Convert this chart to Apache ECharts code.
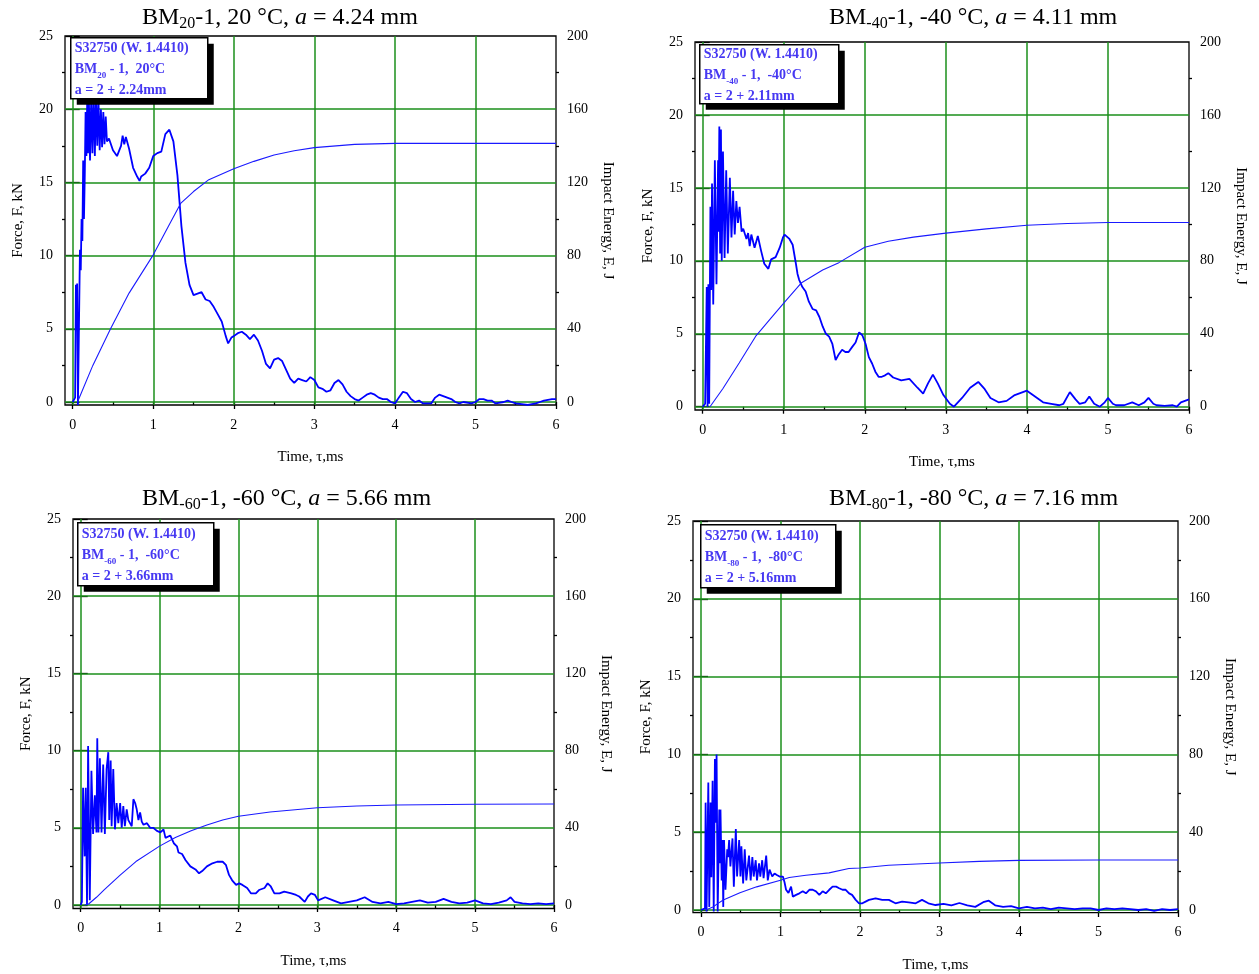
<!DOCTYPE html>
<html><head><meta charset="utf-8">
<script src="https://cdn.jsdelivr.net/npm/echarts@6/dist/echarts.min.js"></script>
<style>html,body{margin:0;padding:0;background:#fff}#c{width:1259px;height:974px}</style>
</head><body><div id="c"></div>
<script>
// ---------- tick labels / grid values ----------
const xTicks = [0, 1, 2, 3, 4, 5, 6];
const xMinorTicks = [0.5, 1.5, 2.5, 3.5, 4.5, 5.5];
const forceTicks = [0, 5, 10, 15, 20, 25];
const forceMinorTicks = [2.5, 7.5, 12.5, 17.5, 22.5];
const energyTicks = [0, 40, 80, 120, 160, 200];
const energyMinorTicks = [20, 60, 100, 140, 180];
const xGridLines = [0, 1, 2, 3, 4, 5];
const forceGridLines = [0, 5, 10, 15, 20];

// ---------- panel texts ----------
const panelSub = ['20', '-40', '-60', '-80'];
const panelTemp = ['20 °C', '-40 °C', '-60 °C', '-80 °C'];
const panelA = ['4.24', '4.11', '5.66', '7.16'];
const boxLine1 = 'S32750 (W. 1.4410)';
const boxTemp = ['1,  20°C', '1,  -40°C', '1,  -60°C', '1,  -80°C'];
const boxCrack = ['a = 2 + 2.24mm', 'a = 2 + 2.11mm', 'a = 2 + 3.66mm', 'a = 2 + 5.16mm'];

// ---------- data: [time ms, force kN] / [time ms, energy J] ----------
const bm20Force = [[0,0],[0.02,0],[0.03,0.3],[0.04,8],[0.045,6],[0.055,8.1],[0.065,-0.2],[0.08,-0.2],[0.09,10.4],[0.1,9],[0.11,12.5],[0.12,11],[0.13,16.5],[0.14,12.5],[0.15,15.5],[0.16,19.8],[0.17,16.8],[0.18,20.6],[0.19,17],[0.2,21],[0.215,16.5],[0.23,20.8],[0.245,17],[0.26,21],[0.275,16.8],[0.29,21],[0.305,17.5],[0.32,20.6],[0.335,17.2],[0.35,20],[0.365,17.4],[0.38,19.8],[0.395,17.6],[0.41,19.5],[0.425,17.8],[0.45,18],[0.5,17.2],[0.55,16.8],[0.6,17.5],[0.62,18.2],[0.64,17.6],[0.66,18.1],[0.7,17.3],[0.75,16],[0.8,15.4],[0.83,15.1],[0.85,15.4],[0.9,15.6],[0.95,16],[1.0,16.8],[1.05,17],[1.1,17.1],[1.15,18.3],[1.2,18.6],[1.25,17.8],[1.3,15.5],[1.35,12],[1.4,9.5],[1.45,8],[1.5,7.3],[1.55,7.4],[1.6,7.5],[1.65,7.0],[1.7,6.9],[1.75,6.5],[1.8,6.0],[1.85,5.5],[1.9,4.5],[1.93,4.0],[1.97,4.4],[2.0,4.5],[2.05,4.7],[2.1,4.8],[2.15,4.6],[2.2,4.3],[2.25,4.6],[2.3,4.2],[2.35,3.5],[2.4,2.6],[2.45,2.3],[2.5,2.9],[2.55,3.0],[2.6,2.8],[2.65,2.2],[2.7,1.6],[2.75,1.3],[2.8,1.6],[2.85,1.5],[2.9,1.4],[2.95,1.7],[3.0,1.5],[3.05,1.0],[3.1,0.9],[3.15,0.7],[3.2,0.8],[3.25,1.3],[3.3,1.5],[3.35,1.2],[3.4,0.7],[3.45,0.4],[3.5,0.2],[3.55,0.1],[3.6,0.3],[3.65,0.5],[3.7,0.6],[3.75,0.5],[3.8,0.3],[3.85,0.2],[3.9,0.2],[3.95,0],[4.0,-0.1],[4.05,0.3],[4.1,0.7],[4.15,0.6],[4.2,0.2],[4.25,0],[4.3,0.1],[4.35,-0.1],[4.45,-0.1],[4.5,0.3],[4.55,0.5],[4.6,0.4],[4.65,0.3],[4.7,0.2],[4.75,0],[4.8,-0.1],[4.85,0],[4.95,-0.1],[5.0,0],[5.05,0.2],[5.1,0.2],[5.15,0.1],[5.2,0.1],[5.25,-0.1],[5.35,0],[5.4,0.1],[5.45,0],[5.5,-0.1],[5.65,-0.2],[5.75,-0.1],[5.8,0],[5.85,0.1],[5.95,0.2],[6.0,0.2]];
const bm20Energy = [[0.06,0],[0.25,20],[0.47,40],[0.7,59.5],[1.0,80.4],[1.2,97],[1.34,108.5],[1.5,115],[1.69,121.5],[2.0,127.5],[2.25,131.5],[2.5,135],[2.75,137.3],[3.0,139],[3.5,140.8],[4.0,141.3],[6.0,141.3]];

const bm40Force = [[0,0],[0.03,0.2],[0.045,0.1],[0.05,8.2],[0.06,0],[0.07,8.4],[0.08,0.2],[0.095,13.7],[0.105,8],[0.115,15.3],[0.13,7],[0.15,16.9],[0.17,8.4],[0.19,16.9],[0.195,12],[0.205,19.2],[0.215,10.5],[0.225,19.0],[0.235,10],[0.25,17.5],[0.27,10.2],[0.29,16.2],[0.31,10.5],[0.335,15.7],[0.355,11.6],[0.375,14.8],[0.395,11.8],[0.415,14.1],[0.435,12.6],[0.455,13.7],[0.48,12],[0.5,12.2],[0.54,11.5],[0.56,11.9],[0.58,11.0],[0.6,11.8],[0.64,10.9],[0.68,11.7],[0.72,10.7],[0.76,9.8],[0.81,9.45],[0.845,10.1],[0.9,10.25],[0.95,10.9],[0.99,11.6],[1.01,11.8],[1.07,11.5],[1.11,11.1],[1.15,9.8],[1.17,9.1],[1.19,8.7],[1.23,8.2],[1.27,7.9],[1.31,7.2],[1.355,6.7],[1.4,6.6],[1.44,6.15],[1.48,5.5],[1.52,5.0],[1.56,4.8],[1.6,4.3],[1.64,3.2],[1.68,3.6],[1.72,3.9],[1.76,3.75],[1.8,3.75],[1.845,4.1],[1.886,4.4],[1.93,5.1],[1.97,4.9],[2.01,4.3],[2.05,3.4],[2.09,2.96],[2.13,2.4],[2.17,2.05],[2.21,2.05],[2.25,2.15],[2.29,2.3],[2.35,2.0],[2.45,1.8],[2.55,1.9],[2.65,1.3],[2.72,0.9],[2.78,1.6],[2.84,2.2],[2.9,1.6],[2.97,0.8],[3.05,0.2],[3.1,0.0],[3.2,0.6],[3.3,1.3],[3.4,1.7],[3.48,1.2],[3.55,0.6],[3.65,0.3],[3.75,0.4],[3.85,0.8],[3.95,1.0],[4.0,1.1],[4.1,0.7],[4.2,0.3],[4.3,0.2],[4.4,0.1],[4.45,0.2],[4.53,1.0],[4.6,0.5],[4.65,0.2],[4.72,0.3],[4.77,0.7],[4.83,0.2],[4.9,0.0],[4.96,0.3],[5.0,0.6],[5.06,0.2],[5.1,0.1],[5.2,0.1],[5.3,0.3],[5.38,0.1],[5.45,0.3],[5.5,0.6],[5.56,0.2],[5.6,0.1],[5.7,0.05],[5.8,0.1],[5.85,0.0],[5.9,0.3],[6.0,0.5]];
const bm40Energy = [[0.09,0],[0.25,10],[0.45,24],[0.66,39],[0.85,49],[1.0,56.8],[1.22,68],[1.48,75],[1.68,79],[2.0,87.4],[2.29,90.7],[2.6,93],[3.0,95.2],[3.5,97.5],[4.0,99.5],[4.5,100.5],[5.0,101],[6.0,101]];

const bm60Force = [[0,0],[0.015,0.2],[0.03,7.6],[0.05,3.15],[0.064,7.6],[0.08,0],[0.094,10.3],[0.115,0.3],[0.136,8.7],[0.157,4.6],[0.179,7.1],[0.2,4.7],[0.21,10.8],[0.225,4.7],[0.243,9.5],[0.264,4.7],[0.285,9.1],[0.306,4.6],[0.328,8.8],[0.35,9.9],[0.362,5.5],[0.38,9.35],[0.392,5.1],[0.413,8.8],[0.434,4.9],[0.455,6.6],[0.477,5.3],[0.5,6.6],[0.52,5.0],[0.54,6.4],[0.56,5.1],[0.583,6.2],[0.604,5.5],[0.647,5.1],[0.668,6.85],[0.69,6.6],[0.71,6.2],[0.732,5.5],[0.753,6.0],[0.774,5.4],[0.796,5.2],[0.84,5.3],[0.88,5.0],[0.92,5.0],[0.966,4.8],[1.01,4.7],[1.05,4.9],[1.075,4.35],[1.136,4.5],[1.18,4.0],[1.22,3.8],[1.24,3.4],[1.285,3.3],[1.33,2.9],[1.39,2.5],[1.455,2.3],[1.5,2.05],[1.54,2.2],[1.6,2.5],[1.67,2.7],[1.73,2.8],[1.8,2.8],[1.84,2.6],[1.88,1.95],[1.92,1.6],[1.97,1.3],[2.01,1.4],[2.05,1.3],[2.11,1.1],[2.16,0.75],[2.22,0.75],[2.26,0.97],[2.33,1.1],[2.37,1.4],[2.41,1.2],[2.455,0.75],[2.52,0.75],[2.58,0.87],[2.67,0.75],[2.73,0.65],[2.77,0.55],[2.84,0.2],[2.88,0.55],[2.92,0.75],[2.97,0.65],[3.01,0.3],[3.1,0.5],[3.2,0.3],[3.3,0.1],[3.4,0.2],[3.5,0.3],[3.6,0.5],[3.7,0.2],[3.8,0.1],[3.9,0.2],[4.0,0.05],[4.1,0.1],[4.2,0.2],[4.3,0.3],[4.4,0.15],[4.5,0.2],[4.6,0.4],[4.7,0.2],[4.8,0.1],[4.9,0.15],[5.0,0.3],[5.1,0.1],[5.2,0.05],[5.3,0.15],[5.4,0.3],[5.45,0.5],[5.5,0.2],[5.6,0.1],[5.7,0.05],[5.8,0.1],[5.9,0.05],[6.0,0.1]];
const bm60Energy = [[0.05,0],[0.1,0.5],[0.2,4],[0.3,8],[0.5,15.5],[0.7,22.5],[1.0,30.5],[1.2,35],[1.4,38.5],[1.6,41.5],[1.8,44],[2.0,46],[2.4,48.2],[3.0,50.4],[3.5,51.3],[4.0,51.8],[5.0,52.2],[6.0,52.3]];

const bm80Force = [[0,0],[0.05,0.1],[0.058,6.9],[0.07,-0.1],[0.092,8.2],[0.104,0.2],[0.12,6.9],[0.13,2.1],[0.146,8.3],[0.16,-0.1],[0.175,9.7],[0.188,5.6],[0.196,10],[0.21,-0.1],[0.23,6.45],[0.24,3],[0.245,6.45],[0.26,1.9],[0.27,4.5],[0.28,0.2],[0.29,4.5],[0.308,1.3],[0.33,3.9],[0.34,3.4],[0.354,4.5],[0.37,2.8],[0.396,4.6],[0.413,1.5],[0.438,5.2],[0.454,2.15],[0.48,4.5],[0.496,2.15],[0.508,4.1],[0.53,1.7],[0.55,3.9],[0.57,1.9],[0.604,3.5],[0.625,1.9],[0.646,3.4],[0.663,2.15],[0.688,3.2],[0.704,1.9],[0.73,3.0],[0.746,2.15],[0.77,3.2],[0.787,2.05],[0.82,3.5],[0.84,1.9],[0.862,2.6],[0.896,2.15],[0.925,2.35],[0.954,2.25],[0.988,2.15],[1.03,2.15],[1.05,1.8],[1.07,1.3],[1.1,1.1],[1.133,1.5],[1.155,0.86],[1.196,0.97],[1.238,1.07],[1.28,1.2],[1.32,1.07],[1.363,1.3],[1.405,1.3],[1.446,1.2],[1.488,0.97],[1.53,1.2],[1.57,1.07],[1.613,1.3],[1.655,1.5],[1.7,1.5],[1.738,1.4],[1.78,1.3],[1.82,1.3],[1.863,1.07],[1.9,0.97],[1.946,0.65],[1.988,0.43],[2.03,0.43],[2.07,0.54],[2.113,0.65],[2.196,0.75],[2.28,0.65],[2.363,0.65],[2.446,0.43],[2.53,0.54],[2.613,0.49],[2.7,0.43],[2.78,0.65],[2.86,0.43],[2.95,0.32],[3.05,0.4],[3.15,0.3],[3.25,0.45],[3.35,0.3],[3.45,0.2],[3.55,0.5],[3.62,0.6],[3.7,0.3],[3.8,0.2],[3.9,0.25],[4.0,0.1],[4.1,0.2],[4.2,0.1],[4.3,0.15],[4.4,0.05],[4.5,0.15],[4.6,0.1],[4.7,0.05],[4.8,0.1],[4.9,0.1],[5.0,0.0],[5.1,0.1],[5.2,0.05],[5.3,0.1],[5.4,0.05],[5.5,0.0],[5.6,0.05],[5.7,-0.05],[5.8,0.05],[5.9,0.0],[6.0,0.05]];
const bm80Energy = [[0.06,0],[0.15,1.5],[0.2,3],[0.28,5.1],[0.49,8.9],[0.7,11.9],[1.0,15.3],[1.11,16.7],[1.32,17.9],[1.61,19.1],[1.86,21.3],[2.0,21.6],[2.36,23],[2.78,23.8],[3.0,24.2],[3.5,25.0],[4.0,25.5],[5.0,25.7],[6.0,25.7]];

const forceSets = [bm20Force, bm40Force, bm60Force, bm80Force];
const energySets = [bm20Energy, bm40Energy, bm60Energy, bm80Energy];

// ---------- layout (pixel geometry of each panel) ----------
const layout = [
  {l: 65,  t: 36,  r: 556,  b: 405,   xMin: -0.0956, fMin: -0.205, eMin: -1.64, titleL: 142, titleT: 4,   boxL: 70,  boxT: 37,  boxW: 137, boxH: 61},
  {l: 695, t: 42,  r: 1189, b: 410,   xMin: -0.095,  fMin: -0.226, eMin: -1.81, titleL: 829, titleT: 4,   boxL: 699, boxT: 44,  boxW: 139, boxH: 59},
  {l: 73,  t: 519, r: 554,  b: 908.5, xMin: -0.0976, fMin: -0.227, eMin: -1.81, titleL: 142, titleT: 485, boxL: 77,  boxT: 522, boxW: 136, boxH: 63},
  {l: 693, t: 521, r: 1178, b: 912.7, xMin: -0.1006, fMin: -0.174, eMin: -1.39, titleL: 829, titleT: 485, boxL: 700, boxT: 524, boxW: 135, boxH: 63}
];

const SERIF = 'Liberation Serif';
const GREEN = '#1b8f1b';
const BOXBLUE = '#4638f2';
const option = {animation: false, grid: [], xAxis: [], yAxis: [], series: [], title: [], graphic: []};

layout.forEach((L, i) => {
  option.grid.push({left: L.l, top: L.t, width: L.r - L.l, height: L.b - L.t, show: true,
    borderColor: '#000', borderWidth: 1.3, backgroundColor: 'transparent', containLabel: false});
  const lbl = {fontFamily: SERIF, fontSize: 14, color: '#000'};
  const nameStyle = {fontFamily: SERIF, fontSize: 15, color: '#000'};
  option.xAxis.push({gridIndex: i, type: 'value', position: 'bottom', min: L.xMin, max: 6,
    axisLine: {show: false}, splitLine: {show: false},
    axisTick: {show: true, customValues: xTicks, length: 7, lineStyle: {color: '#000', width: 1.3}},
    axisLabel: Object.assign({customValues: xTicks, margin: 13}, lbl),
    name: 'Time, τ,ms', nameLocation: 'middle', nameGap: 45, nameTextStyle: nameStyle});
  option.xAxis.push({gridIndex: i, type: 'value', position: 'bottom', min: L.xMin, max: 6,
    axisLine: {show: false}, splitLine: {show: false}, axisLabel: {show: false},
    axisTick: {show: true, customValues: xMinorTicks, length: 3, lineStyle: {color: '#000', width: 1.3}}});
  option.yAxis.push({gridIndex: i, type: 'value', position: 'left', min: L.fMin, max: 25,
    axisLine: {show: false}, splitLine: {show: false},
    axisTick: {show: true, customValues: forceTicks, length: 7, lineStyle: {color: '#000', width: 1.3}},
    axisLabel: Object.assign({customValues: forceTicks, margin: 12}, lbl),
    name: 'Force, F, kN', nameLocation: 'middle', nameGap: 39, nameRotate: 90, nameTextStyle: nameStyle});
  option.yAxis.push({gridIndex: i, type: 'value', position: 'right', min: L.eMin, max: 200,
    axisLine: {show: false}, splitLine: {show: false},
    axisTick: {show: true, customValues: energyTicks, length: 7, lineStyle: {color: '#000', width: 1.3}},
    axisLabel: Object.assign({customValues: energyTicks, margin: 11}, lbl),
    name: 'Impact Energy, E, J', nameLocation: 'middle', nameGap: 44, nameRotate: -90, nameTextStyle: nameStyle});
  option.yAxis.push({gridIndex: i, type: 'value', position: 'left', min: L.fMin, max: 25,
    axisLine: {show: false}, splitLine: {show: false}, axisLabel: {show: false},
    axisTick: {show: true, customValues: forceMinorTicks, length: 3, lineStyle: {color: '#000', width: 1.3}}});
  option.yAxis.push({gridIndex: i, type: 'value', position: 'right', min: L.eMin, max: 200,
    axisLine: {show: false}, splitLine: {show: false}, axisLabel: {show: false},
    axisTick: {show: true, customValues: energyMinorTicks, length: 3, lineStyle: {color: '#000', width: 1.3}}});

  option.series.push({type: 'line', xAxisIndex: 2 * i, yAxisIndex: 4 * i, data: forceSets[i],
    symbol: 'none', z: 3, lineStyle: {color: '#0000ff', width: 1.8},
    markLine: {silent: true, z: 1, symbol: ['none', 'none'], label: {show: false}, animation: false,
      lineStyle: {color: GREEN, width: 1.5, type: 'solid'}, emphasis: {disabled: true},
      data: xGridLines.map(v => ({xAxis: v})).concat(forceGridLines.map(v => ({yAxis: v})))}});
  option.series.push({type: 'line', xAxisIndex: 2 * i, yAxisIndex: 4 * i + 1, data: energySets[i],
    symbol: 'none', z: 3, lineStyle: {color: '#1a1aff', width: 1.1}});

  option.title.push({
    text: '{r|BM}{s|' + panelSub[i] + '}{r|-1, ' + panelTemp[i] + ', }{i|a}{r| = ' + panelA[i] + ' mm}',
    left: L.titleL, top: L.titleT, padding: 0,
    textStyle: {fontWeight: 'normal', rich: {
      r: {fontFamily: SERIF, fontSize: 24, fontWeight: 'normal', color: '#000', lineHeight: 28},
      i: {fontFamily: SERIF, fontSize: 24, fontWeight: 'normal', fontStyle: 'italic', color: '#000', lineHeight: 28},
      s: {fontFamily: SERIF, fontSize: 16, fontWeight: 'normal', color: '#000', verticalAlign: 'bottom', lineHeight: 19}
    }}
  });

  // annotation box (white box with hard black drop shadow)
  option.graphic.push({
    type: 'group', left: L.boxL, top: L.boxT, z: 100, zlevel: 0,
    children: [
      {type: 'rect', z: 100, shape: {x: 6, y: 6, width: L.boxW, height: L.boxH}, style: {fill: '#000'}},
      {type: 'rect', z: 101, shape: {x: 0, y: 0, width: L.boxW, height: L.boxH}, style: {fill: '#fff', stroke: '#000', lineWidth: 1.5}},
      {type: 'text', z: 102, x: 4, y: Math.round((L.boxH - 63) / 2) + 1,
        style: {
          text: '{t|' + boxLine1 + '}\n{t|BM}{s|' + panelSub[i] + '}{t| - ' + boxTemp[i] + '}\n{t|' + boxCrack[i] + '}',
          align: 'left', verticalAlign: 'top',
          rich: {
            t: {fontFamily: SERIF, fontSize: 14, fontWeight: 'bold', fill: BOXBLUE, lineHeight: 21},
            s: {fontFamily: SERIF, fontSize: 9, fontWeight: 'bold', fill: BOXBLUE, verticalAlign: 'bottom', lineHeight: 14}
          }
        }}
    ]
  });
});

const chart = echarts.init(document.getElementById('c'), null, {renderer: 'canvas'});
chart.setOption(option);
</script>
</body></html>
